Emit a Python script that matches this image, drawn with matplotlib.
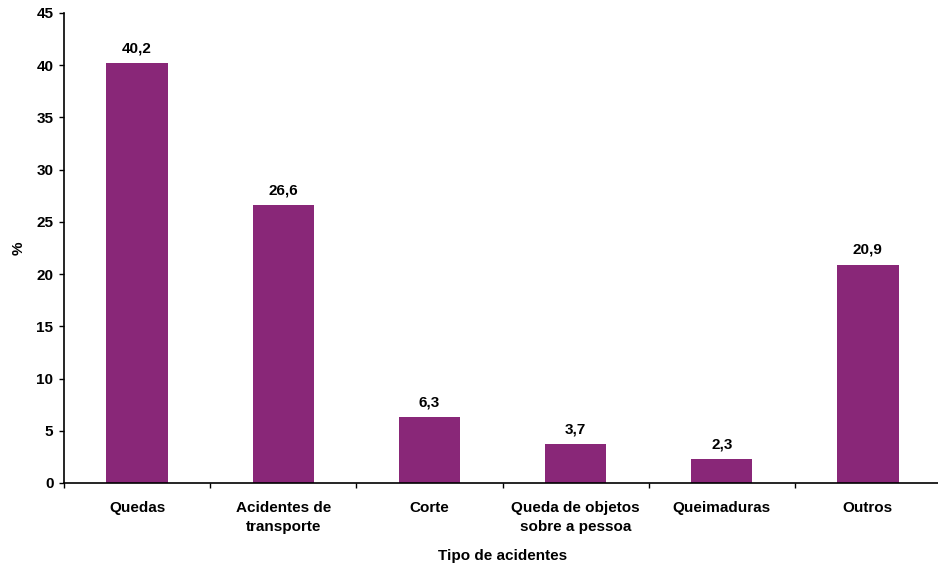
import matplotlib.pyplot as plt

plt.rcParams['font.family'] = ['Liberation Sans', 'DejaVu Sans']
plt.rcParams['font.weight'] = 'bold'

categorias = ['Quedas', 'Acidentes de\ntransporte', 'Corte',
              'Queda de objetos\nsobre a pessoa', 'Queimaduras', 'Outros']
valores = [40.2, 26.6, 6.3, 3.7, 2.3, 20.9]
rotulos = ['40,2', '26,6', '6,3', '3,7', '2,3', '20,9']

fig = plt.figure(figsize=(9.38, 5.67), dpi=100)
ax = fig.add_axes([64/938, 1 - 483/567, 877/938, 470/567])

x = range(len(categorias))
ax.bar(x, valores, width=0.42, color='#892778')
for xi, v, r in zip(x, valores, rotulos):
    ax.text(xi, v + 0.75, r, ha='center', va='bottom', fontsize=11, fontweight='bold')

ax.set_xlim(-0.5, len(categorias) - 0.5)
ax.set_ylim(0, 45)
ax.set_yticks(range(0, 46, 5))
ax.set_xticks([i - 0.5 for i in range(len(categorias) + 1)])
ax.set_xticklabels([])
ax.set_xticks(list(x), minor=True)
ax.set_xticklabels(categorias, minor=True, fontsize=11, fontweight='bold', linespacing=1.45)
ax.tick_params(axis='x', which='minor', length=0, pad=13)
ax.tick_params(axis='x', which='major', length=3.6, width=1, direction='out')
ax.tick_params(axis='y', length=3.6, width=1, direction='out', labelsize=11, pad=4)

for s in ['top', 'right']:
    ax.spines[s].set_visible(False)
for s in ['left', 'bottom']:
    ax.spines[s].set_linewidth(1.2)

ax.set_ylabel('%', fontsize=11, fontweight='bold', labelpad=8)
ax.set_xlabel('Tipo de acidentes', fontsize=11, fontweight='bold', labelpad=11)

fig.savefig('out.png', dpi=100)
